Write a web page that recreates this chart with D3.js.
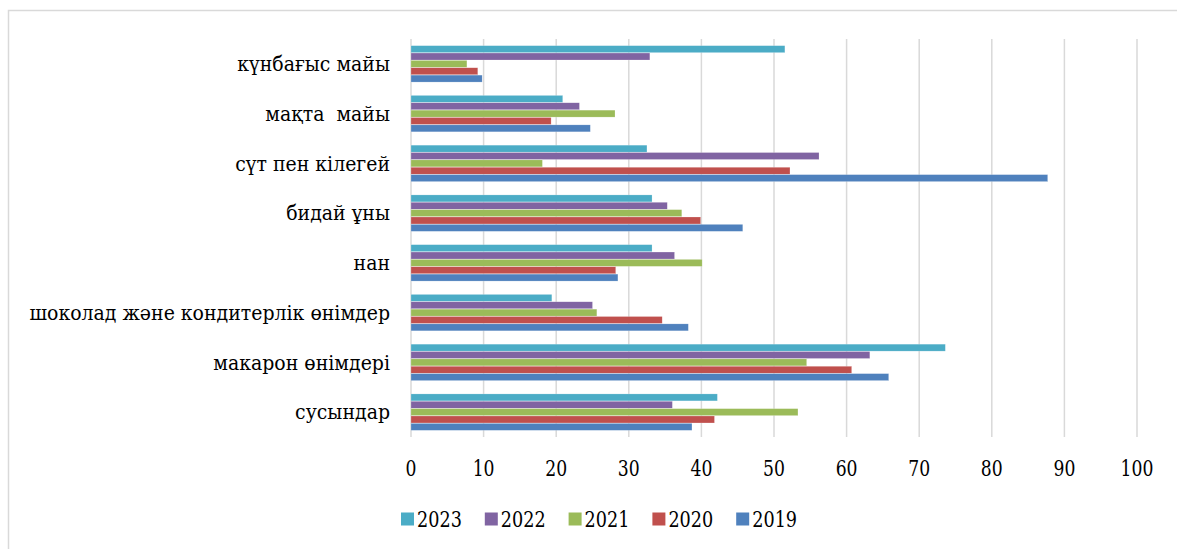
<!DOCTYPE html>
<html lang="kk">
<head>
  <meta charset="utf-8">
  <title>Bar chart</title>
  <style>
    body { margin: 0; background: #fff; }
  </style>
</head>
<body>
<svg id="chart" width="1177" height="549"></svg>
<script src="https://d3js.org/d3.v7.min.js"></script>
<script>
  // categories, top to bottom as shown
  var categories = [
    "күнбағыс майы",
    "мақта  майы",
    "сүт пен кілегей",
    "бидай ұны",
    "нан",
    "шоколад және кондитерлік өнімдер",
    "макарон өнімдері",
    "сусындар"
  ];

  // series, one value per category (same order)
  var v2023 = [51.5, 20.9, 32.5, 33.2, 33.2, 19.4, 73.6, 42.2];
  var v2022 = [32.9, 23.2, 56.2, 35.3, 36.3, 25.0, 63.2, 36.0];
  var v2021 = [7.7, 28.1, 18.1, 37.3, 40.1, 25.6, 54.5, 53.3];
  var v2020 = [9.2, 19.3, 52.2, 39.9, 28.2, 34.6, 60.7, 41.8];
  var v2019 = [9.8, 24.7, 87.7, 45.7, 28.5, 38.2, 65.8, 38.7];

  var years  = ["2023", "2022", "2021", "2020", "2019"];
  var colors = ["#4BACC6", "#8064A2", "#9BBB59", "#C0504D", "#4F81BD"];
  var ticks  = [0, 10, 20, 30, 40, 50, 60, 70, 80, 90, 100];

  var seriesVals = [v2023, v2022, v2021, v2020, v2019];
  // only serif face that is really there; squeezed a bit to look like Times
  var font = "'DejaVu Serif', serif";

  var svg = d3.select("#chart");

  // outer chart frame (runs off the page on right/bottom)
  svg.append("rect")
     .attr("x", 8.5).attr("y", 10.5)
     .attr("width", 1200).attr("height", 600)
     .attr("fill", "none")
     .attr("stroke", "#d9d9d9")
     .attr("stroke-width", 1.5);

  var x = d3.scaleLinear().domain([0, 100]).range([411, 1137]);
  var y = d3.scaleBand().domain(categories).range([39, 437]).paddingInner(0.26).paddingOuter(0.13);
  var yInner = d3.scaleBand().domain(years).range([0, y.bandwidth()]);

  // gridlines
  svg.append("g").selectAll("line")
     .data(ticks)
     .join("line")
       .attr("x1", d => x(d)).attr("x2", d => x(d))
       .attr("y1", 39).attr("y2", 437)
       .attr("stroke", "#d9d9d9")
       .attr("stroke-width", 1.5);

  // bars
  var groups = svg.append("g").selectAll("g")
     .data(categories)
     .join("g")
       .attr("transform", d => "translate(0," + y(d) + ")");

  groups.selectAll("rect")
     .data((c, i) => years.map((yr, k) => ({ yr: yr, k: k, v: seriesVals[k][i] })))
     .join("rect")
       .attr("x", x(0))
       .attr("y", d => yInner(d.yr) + 0.2)
       .attr("width", d => x(d.v) - x(0))
       .attr("height", yInner.bandwidth() - 0.4)
       .attr("fill", d => colors[d.k])
       .attr("stroke", "#fff")
       .attr("stroke-opacity", 0.4)
       .attr("stroke-width", 0.5);

  // category labels
  svg.append("g").selectAll("text")
     .data(categories)
     .join("text")
       .attr("transform", d => "translate(390," + (y(d) + y.bandwidth() / 2) + ") scale(0.9,1)")
       .attr("dy", "0.35em")
       .attr("text-anchor", "end")
       .attr("font-family", font)
       .attr("font-size", 21)
       .attr("fill", "#000")
       .style("white-space", "pre")
       .text(d => d);

  // x tick labels
  svg.append("g").selectAll("text")
     .data(ticks)
     .join("text")
       .attr("transform", d => "translate(" + x(d) + ",468) scale(0.8,1)")
       .attr("dy", "0.35em")
       .attr("text-anchor", "middle")
       .attr("font-family", font)
       .attr("font-size", 21.5)
       .attr("fill", "#000")
       .text(d => d);

  // legend
  var legend = svg.append("g").selectAll("g")
     .data(years)
     .join("g")
       .attr("transform", (d, i) => "translate(" + (401 + i * 83.8) + ",519)");

  legend.append("rect")
     .attr("x", 0).attr("y", -6.5)
     .attr("width", 13).attr("height", 13)
     .attr("fill", (d, i) => colors[i]);

  legend.append("text")
     .attr("transform", "translate(16,0) scale(0.82,1)")
     .attr("dy", "0.35em")
     .attr("font-family", font)
     .attr("font-size", 21.5)
     .attr("fill", "#000")
     .text(d => d);
</script>
</body>
</html>
